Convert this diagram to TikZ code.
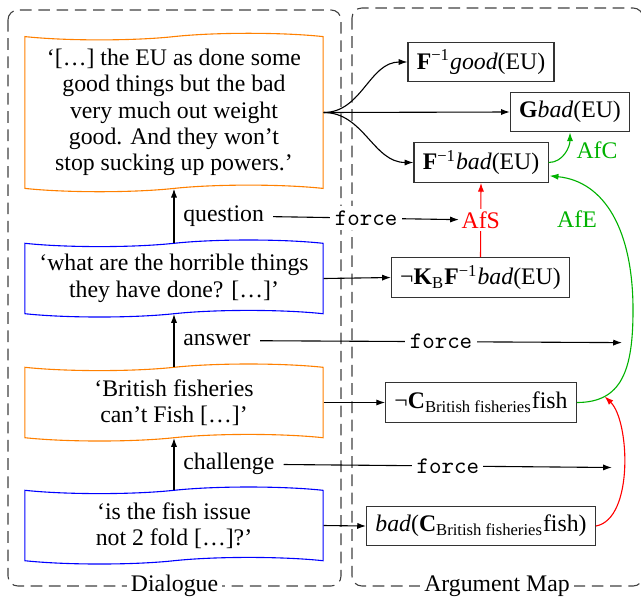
\documentclass[tikz,border=0pt]{standalone}
\usepackage{fontspec}
\setmainfont{Liberation Serif}
\usetikzlibrary{shapes.symbols,arrows.meta}
\definecolor{afgreen}{RGB}{0,178,0}
\definecolor{tapeorange}{RGB}{255,128,0}
\begin{document}
\begin{tikzpicture}[x=0.4545pt,y=-0.4545pt,
  font=\fontsize{10.8}{12}\selectfont,
  >={Latex[length=4pt,width=2.8pt]},
  utter/.style={tape, tape bend height=3pt, line width=0.5pt, align=center,
    minimum width=135.5pt, inner sep=2pt},
  orangeutter/.style={utter, draw=tapeorange},
  blueutter/.style={utter, draw=blue},
  prop/.style={draw=black!80, line width=0.5pt, minimum height=18pt,
    inner xsep=4pt, inner ysep=2pt},
  region/.style={draw=black!75, line width=0.5pt,
    dash pattern=on 5.3pt off 3pt, rounded corners=4.5pt},
  regionlabel/.style={fill=white, inner sep=2pt},
  rel/.style={->, line width=0.5pt},
  forcelbl/.style={fill=white, inner sep=2pt,
    font=\fontsize{10.8}{12}\selectfont\ttfamily},
  movelbl/.style={right, inner sep=4pt},
  target/.style={inner sep=#1, outer sep=0pt}
]
\useasboundingbox (0,0) rectangle (641,600);

% regions
\draw[region] (8,10) rectangle (341,586);
\node[regionlabel] (dlab) at (174.5,586) {Dialogue};
\draw[region] (352,8) rectangle (643,586);
\node[regionlabel] (alab) at (497,586) {Argument Map};

% dialogue moves
\node[orangeutter, minimum height=72pt] (u1) at (174,112.5)
  {‘[\ldots] the EU as done some\\good things but the bad\\very much out weight\\good. And they won’t\\stop sucking up powers.’};
\node[blueutter, minimum height=35pt] (u2) at (174,278.5)
  {‘what are the horrible things\\they have done? [\ldots]’};
\node[orangeutter, minimum height=35pt] (u3) at (174,402.5)
  {‘British fisheries\\can’t Fish [\ldots]’};
\node[blueutter, minimum height=35pt] (u4) at (174,525.5)
  {‘is the fish issue\\not 2 fold [\ldots]?’};

\draw[rel] (u2.north) -- node[movelbl] (lq) {question} (u1.south);
\draw[rel] (u3.north) -- node[movelbl] (la) {answer} (u2.south);
\draw[rel] (u4.north) -- node[movelbl] (lc) {challenge} (u3.south);

% argument map
\node[prop] (fg) at (481,62) {\textbf{F}\textsuperscript{−1}\textit{good}(EU)};
\node[prop] (gb) at (570,112) {\textbf{G}\textit{bad}(EU)};
\node[prop] (fb) at (481,162.5) {\textbf{F}\textsuperscript{−1}\textit{bad}(EU)};
\node[prop] (kb) at (480.5,277.5) {¬\textbf{K}\textsubscript{B}\textbf{F}\textsuperscript{−1}\textit{bad}(EU)};
\node[prop] (cf) at (481,402.5) {¬\textbf{C}\textsubscript{British fisheries}fish};
\node[prop] (bc) at (481,526) {\textit{bad}(\textbf{C}\textsubscript{British fisheries}fish)};

\draw[rel] (u1.east) to[out=0,in=180] (fg.west);
\draw[rel] (u1.east) -- (gb.west);
\draw[rel] (u1.east) to[out=0,in=180] (fb.west);
\draw[rel] (u2.east) -- (kb.west);
\draw[rel] (u3.east) -- (cf.west);
\draw[rel] (u4.east) -- (bc.west);

% attacks / supports
\draw[rel, afgreen] (fb.east) to[out=0,in=-90] (gb.south);
\node[text=afgreen] (lafc) at (597,150) {AfC};

\draw[rel, red] (kb.north) -- node[fill=white, inner sep=1pt, text=red] (lafs) {AfS} (fb.south);

\draw[rel, afgreen] (cf.east) .. controls +(45,0) and +(0,60) .. (633,310)
    coordinate[pos=0.25] (afered) node[pos=0.8, target=4.3pt] (afeans) {}
  .. controls +(0,-80) and +(55,5.5) .. ([shift={(1,-7)}]fb.south east);
\node[text=afgreen] (lafe) at (577,219) {AfE};

\draw[rel, red] (bc.east) .. controls +(38,-7) and +(25,24) .. (afered)
  node[pos=0.5, target=5.5pt] (redch) {};

% force relations
\draw[rel] (lq) -- node[forcelbl] (f1) {force} (lafs);
\draw[rel] (la) -- node[forcelbl] (f2) {force} (afeans);
\draw[rel] (lc) -- node[forcelbl] (f3) {force} (redch);
\end{tikzpicture}
\end{document}
